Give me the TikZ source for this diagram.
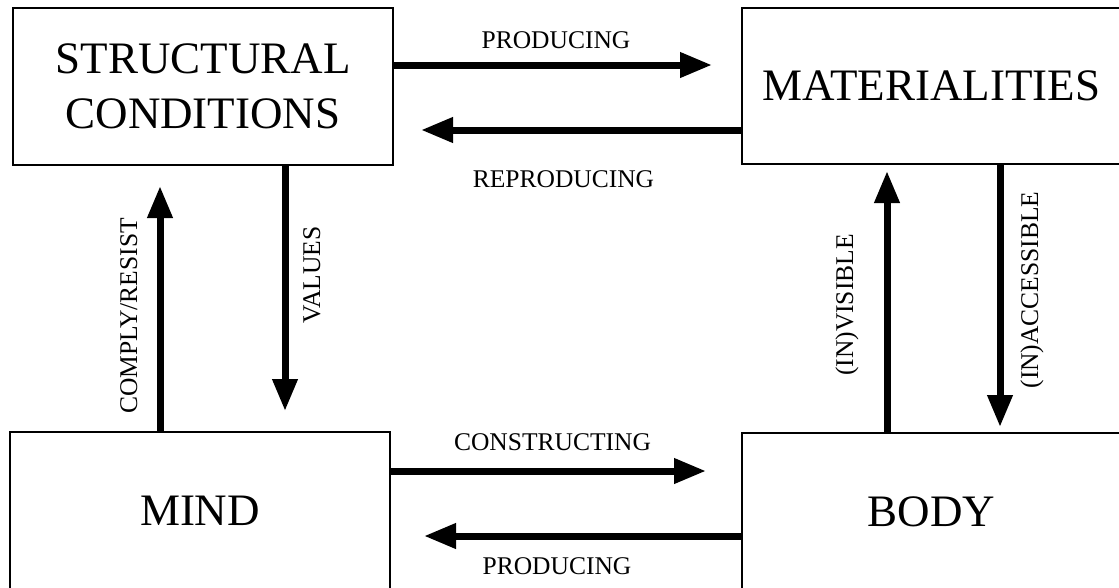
\documentclass[tikz,border=0pt]{standalone}
\usepackage{fontspec}
\setmainfont{Liberation Serif}
\usetikzlibrary{arrows.meta}
\begin{document}
\begin{tikzpicture}[x=1pt,y=-1pt,
  box/.style={draw,line width=2pt,inner sep=0pt,font=\fontsize{45}{55}\selectfont,align=center},
  arr/.style={line width=7pt,-{Triangle[length=32pt,width=24pt]}},
  lbl/.style={font=\fontsize{25.5}{30}\selectfont,inner sep=0pt,anchor=base}]
\useasboundingbox (0,0) rectangle (1119,587);
\node[box,minimum width=380pt,minimum height=157pt] (sc) at (203,86.5) {STRUCTURAL\\CONDITIONS};
\node[box,minimum width=379pt,minimum height=156pt] (mat) at (931.5,86) {MATERIALITIES};
\node[box,minimum width=380pt,minimum height=158pt] (mind) at (200,511) {MIND};
\node[box,minimum width=379pt,minimum height=157pt] (body) at (931.5,511.5) {BODY};
% horizontal arrows
\draw[arr,shorten >=29pt] (sc.east |- 0,65) -- (mat.west |- 0,65);
\draw[arr,shorten >=27pt] (mat.west |- 0,130) -- (sc.east |- 0,130);
\draw[arr,shorten >=35pt] (mind.east |- 0,471) -- (body.west |- 0,471);
\draw[arr,shorten >=33pt] (body.west |- 0,536) -- (mind.east |- 0,536);
% vertical arrows
\draw[arr,shorten >=20pt] (sc.south -| 285,0) -- (mind.north -| 285,0);
\draw[arr,shorten >=20pt] (mind.north -| 160,0) -- (sc.south -| 160,0);
\draw[arr,shorten >=6pt] (body.north -| 887,0) -- (mat.south -| 887,0);
\draw[arr,shorten >=5pt] (mat.south -| 1000,0) -- (body.north -| 1000,0);
% labels
\node[lbl] (l1) at (556,48) {PRODUCING};
\node[lbl] (l2) at (563.5,187) {REPRODUCING};
\node[lbl] (l3) at (552.5,450) {CONSTRUCTING};
\node[lbl] (l4) at (557,574) {PRODUCING};
\node[lbl,rotate=90] (l5) at (137,316) {COMPLY/RESIST};
\node[lbl,rotate=90] (l6) at (320,275) {VALUES};
\node[lbl,rotate=90] (l7) at (853,305) {(IN)VISIBLE};
\node[lbl,rotate=90] (l8) at (1038,290) {(IN)ACCESSIBLE};
\end{tikzpicture}
\end{document}
